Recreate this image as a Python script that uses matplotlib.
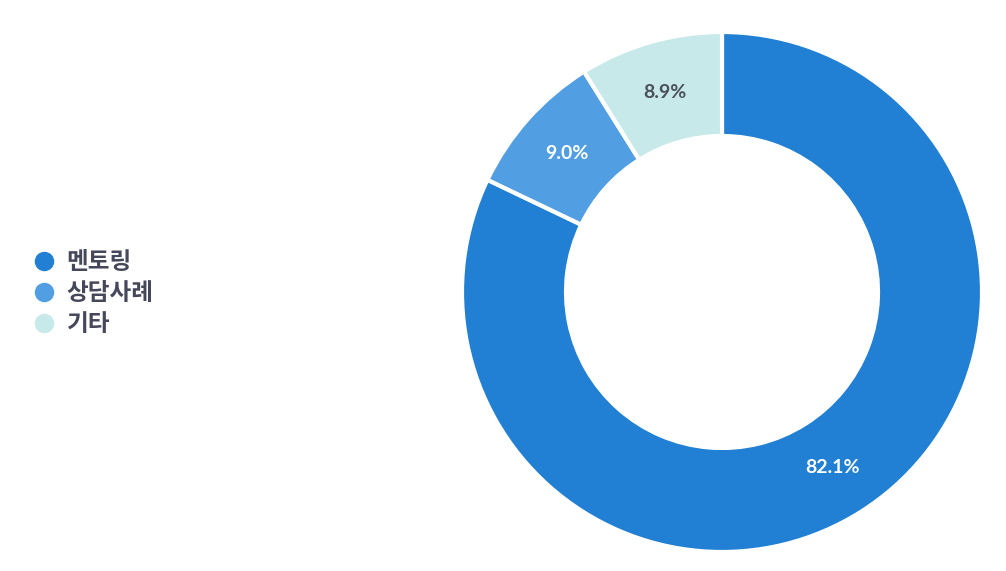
import matplotlib
matplotlib.use('Agg')
import matplotlib.pyplot as plt
from matplotlib.lines import Line2D
import numpy as np

labels = ['멘토링', '상담사례', '기타']
values = [82.1, 9.0, 8.9]
colors = ['#2180D3', '#519FE2', '#C7E9E9']
pct_colors = ['white', 'white', '#4a4f5c']

plt.rcParams['font.family'] = ['Noto Sans CJK KR', 'DejaVu Sans']

fig = plt.figure(figsize=(10.06, 5.71), dpi=100, facecolor='white')

# donut axes: center (722, 292) px, radius 260 px
W, H = 1006, 571
cx, cy, r = 722, 292, 260
ax = fig.add_axes([(cx - r) / W, (H - cy - r) / H, 2 * r / W, 2 * r / H])

wedges, _ = ax.pie(values, colors=colors, startangle=90, counterclock=False,
                   radius=1, wedgeprops=dict(width=0.4, edgecolor='white', linewidth=3))

total = sum(values)
start = 90
for v, c in zip(values, pct_colors):
    mid = start - v / total * 360 / 2
    x = 0.8 * np.cos(np.radians(mid))
    y = 0.8 * np.sin(np.radians(mid))
    ax.text(x, y, f'{v:.1f}%', ha='center', va='center', color=c,
            fontsize=14, fontweight='bold', family=['Lato', 'DejaVu Sans'])
    start -= v / total * 360

ax.set_xlim(-1, 1)
ax.set_ylim(-1, 1)
ax.set_aspect('equal')
ax.axis('off')

handles = [Line2D([0], [0], marker='o', linestyle='none', markersize=13,
                  markerfacecolor=c, markeredgecolor=c) for c in colors]
leg = fig.legend(handles, labels, loc='center left', bbox_to_anchor=(11 / W, 1 - 293 / H),
                 frameon=False, handletextpad=0.45, labelspacing=0.3,
                 prop={'size': 17, 'weight': 'bold'}, handlelength=1.0)
for t in leg.get_texts():
    t.set_color('#45475a')

fig.savefig('out.png', dpi=100, facecolor='white')
